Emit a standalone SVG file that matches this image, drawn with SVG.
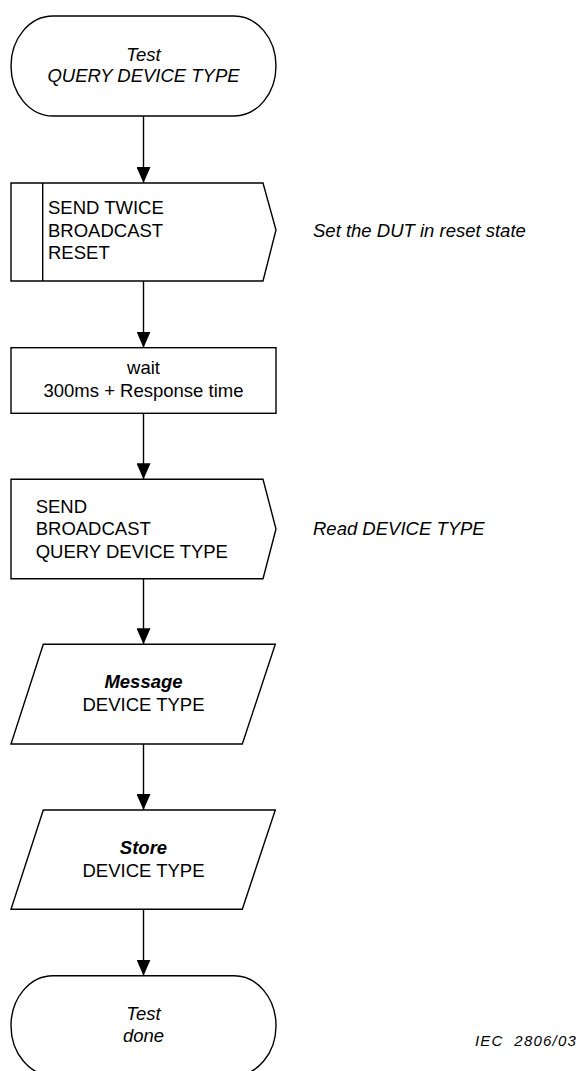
<svg xmlns="http://www.w3.org/2000/svg" width="583" height="1071" viewBox="0 0 583 1071">
<defs>
<marker id="ah" markerWidth="16" markerHeight="14" refX="16" refY="7" orient="auto" markerUnits="userSpaceOnUse" viewBox="0 0 16 14">
<path d="M0,0 L16,7 L0,14 Z" fill="#000"/>
</marker>
</defs>
<style>
.s{fill:#fff;stroke:#000;stroke-width:1.4}
.t{font-family:"Liberation Sans",Arial,sans-serif;font-size:18.5px;fill:#000}
.i{font-style:italic}
.b{font-weight:bold;font-style:italic}
.c{text-anchor:middle}
.e{stroke:#000;stroke-width:1.4;fill:none;marker-end:url(#ah)}
</style>
<rect width="583" height="1071" fill="#fff"/>
<g id="start">
<rect class="s" x="11" y="16" width="265" height="100" rx="42" ry="50"/>
<text class="t i c" x="143.5" y="61">Test</text>
<text class="t i c" x="143.5" y="82">QUERY DEVICE TYPE</text>
</g>
<g id="send-reset">
<path class="s" d="M11,183 H263 L276,230 L263,281 H11 Z"/>
<line x1="42.7" y1="183" x2="42.7" y2="281" stroke="#000" stroke-width="1.4"/>
<text class="t" x="48" y="214.3">SEND TWICE</text>
<text class="t" x="48" y="236.7">BROADCAST</text>
<text class="t" x="48" y="259.3">RESET</text>
</g>
<g id="note-reset">
<text class="t i" x="313" y="237">Set the DUT in reset state</text>
</g>
<g id="wait">
<rect class="s" x="11" y="347.7" width="265" height="65.6"/>
<text class="t c" x="143.5" y="374">wait</text>
<text class="t c" x="143.5" y="396.7">300ms + Response time</text>
</g>
<g id="send-query">
<path class="s" d="M11,479.3 H263 L276,529 L263,578.7 H11 Z"/>
<text class="t" x="35.7" y="512.7">SEND</text>
<text class="t" x="35.7" y="535">BROADCAST</text>
<text class="t" x="35.7" y="558.3">QUERY DEVICE TYPE</text>
</g>
<g id="note-read">
<text class="t i" x="313" y="535">Read DEVICE TYPE</text>
</g>
<g id="message">
<path class="s" d="M43.3,644.3 H275.3 L242.3,744 H11 Z"/>
<text class="t b c" x="143.5" y="688.3">Message</text>
<text class="t c" x="143.5" y="711">DEVICE TYPE</text>
</g>
<g id="store">
<path class="s" d="M43.3,810 H275.3 L242.3,909.3 H11 Z"/>
<text class="t b c" x="143.5" y="854">Store</text>
<text class="t c" x="143.5" y="876.7">DEVICE TYPE</text>
</g>
<g id="end">
<rect class="s" x="11" y="975.7" width="265" height="100" rx="42" ry="50"/>
<text class="t i c" x="143.5" y="1020">Test</text>
<text class="t i c" x="143.5" y="1041.7">done</text>
</g>
<g id="label">
<text class="i" x="475" y="1046" font-family="Liberation Sans, Arial, sans-serif" font-size="15" letter-spacing="1.2" xml:space="preserve">IEC  2806/03</text>
</g>
<g id="connectors">
<line class="e" x1="143.5" y1="116" x2="143.5" y2="183"/>
<line class="e" x1="143.5" y1="281" x2="143.5" y2="347.7"/>
<line class="e" x1="143.5" y1="413.3" x2="143.5" y2="479.3"/>
<line class="e" x1="143.5" y1="578.7" x2="143.5" y2="644.3"/>
<line class="e" x1="143.5" y1="744" x2="143.5" y2="810"/>
<line class="e" x1="143.5" y1="909.3" x2="143.5" y2="975.7"/>
</g>
</svg>
